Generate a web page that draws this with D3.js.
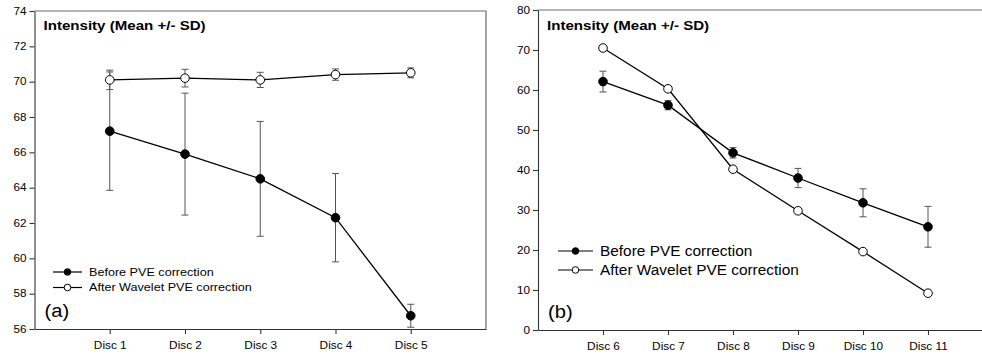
<!DOCTYPE html>
<html>
<head>
<meta charset="utf-8">
<script src="https://cdn.jsdelivr.net/npm/d3@7"></script>
<style>
  body { margin: 0; background: #fff; }
  text { font-family: 'Liberation Sans', Arial, sans-serif; fill: #000; }
</style>
</head>
<body>
<script>
// panel (a) - discs 1-5
var discsA = ['Disc 1', 'Disc 2', 'Disc 3', 'Disc 4', 'Disc 5'];
var beforeA = [67.2, 65.9, 64.5, 62.3, 56.75];
var beforeSdA = [3.35, 3.45, 3.25, 2.5, 0.65];
var afterA = [70.1, 70.2, 70.1, 70.4, 70.5];
var afterSdA = [0.55, 0.5, 0.43, 0.32, 0.28];
var ticksA = [56, 58, 60, 62, 64, 66, 68, 70, 72, 74];

// panel (b) - discs 6-11
var discsB = ['Disc 6', 'Disc 7', 'Disc 8', 'Disc 9', 'Disc 10', 'Disc 11'];
var beforeB = [62.1, 56.2, 44.3, 38.0, 31.8, 25.8];
var beforeSdB = [2.6, 1.15, 1.3, 2.4, 3.5, 5.1];
var afterB = [70.5, 60.3, 40.2, 29.8, 19.6, 9.2];
var afterSdB = [0.4, 0.4, 0.4, 0.4, 0.4, 0.4];
var ticksB = [0, 10, 20, 30, 40, 50, 60, 70, 80];

var legendNames = ['Before PVE correction', 'After Wavelet PVE correction'];
var titleText = 'Intensity (Mean +/- SD)';

var svg = d3.select('body').append('svg')
    .attr('width', 982)
    .attr('height', 358);

// the picture's text is wider than plain Arial, so stretch it a bit
function stretch(sel, k) {
  sel.each(function () {
    var w = this.getComputedTextLength();
    d3.select(this)
      .attr('textLength', w * k)
      .attr('lengthAdjust', 'spacingAndGlyphs');
  });
}

function drawPanel(p) {
  var g = svg.append('g');

  var x = d3.scaleLinear().domain(p.xDomain).range([p.left, p.right]);
  var y = d3.scaleLinear().domain(p.yDomain).range([p.bottom, p.top]);
  var first = p.xDomain[0] + 1;
  var idx = p.discs.map(function (d, i) { return first + i; });

  // frame top/right
  g.append('path')
    .attr('d', 'M' + p.left + ',' + p.top + 'H' + p.right + 'V' + p.bottom)
    .attr('fill', 'none')
    .attr('stroke', '#6a6a6a')
    .attr('stroke-width', 1.2);

  var yAxis = d3.axisLeft(y)
    .tickValues(p.yTicks)
    .tickSize(5)
    .tickPadding(3)
    .tickSizeOuter(0);
  var ya = g.append('g')
    .attr('transform', 'translate(' + p.left + ',0)')
    .call(yAxis);
  ya.selectAll('path, line').attr('stroke', '#333').attr('stroke-width', 1.1);
  ya.selectAll('text').attr('font-size', '10px').attr('fill', '#000');
  stretch(ya.selectAll('text'), 1.17);

  var xAxis = d3.axisBottom(x)
    .tickValues(idx)
    .tickFormat(function (d) { return p.discs[d - first]; })
    .tickSize(5)
    .tickPadding(8)
    .tickSizeOuter(0);
  var xa = g.append('g')
    .attr('transform', 'translate(0,' + p.bottom + ')')
    .call(xAxis);
  xa.selectAll('path, line').attr('stroke', '#333').attr('stroke-width', 1.1);
  xa.selectAll('text').attr('font-size', '10px').attr('fill', '#000');
  stretch(xa.selectAll('text'), 1.18);

  var series = [
    {vals: p.before, sd: p.beforeSd, fill: '#000'},
    {vals: p.after, sd: p.afterSd, fill: '#fff'}
  ];

  // error bars
  series.forEach(function (s) {
    var eb = g.append('g').attr('stroke', '#555').attr('stroke-width', 1);
    s.vals.forEach(function (v, i) {
      var cx = x(idx[i]), lo = y(v - s.sd[i]), hi = y(v + s.sd[i]);
      eb.append('line').attr('x1', cx).attr('x2', cx).attr('y1', lo).attr('y2', hi);
      eb.append('line').attr('x1', cx - 3.5).attr('x2', cx + 3.5).attr('y1', lo).attr('y2', lo);
      eb.append('line').attr('x1', cx - 3.5).attr('x2', cx + 3.5).attr('y1', hi).attr('y2', hi);
    });
  });

  var line = d3.line()
    .x(function (d, i) { return x(idx[i]); })
    .y(function (d) { return y(d); });

  series.forEach(function (s) {
    g.append('path')
      .datum(s.vals)
      .attr('d', line)
      .attr('fill', 'none')
      .attr('stroke', '#000')
      .attr('stroke-width', 1.3);
  });

  series.forEach(function (s) {
    g.selectAll(null)
      .data(s.vals)
      .enter()
      .append('circle')
      .attr('cx', function (d, i) { return x(idx[i]); })
      .attr('cy', function (d) { return y(d); })
      .attr('r', 4.3)
      .attr('fill', s.fill)
      .attr('stroke', '#000')
      .attr('stroke-width', 1);
  });

  // title
  var t = g.append('text')
    .attr('x', p.left + 9)
    .attr('y', 30)
    .attr('font-size', '13px')
    .attr('font-weight', 'bold')
    .text(titleText);
  stretch(t, 1.16);

  // legend
  var lg = g.append('g');
  series.forEach(function (s, i) {
    var ly = p.legY + i * p.legGap;
    lg.append('line')
      .attr('x1', p.legX).attr('x2', p.legX + p.legLen)
      .attr('y1', ly).attr('y2', ly)
      .attr('stroke', '#000').attr('stroke-width', 1.2);
    lg.append('circle')
      .attr('cx', p.legX + p.legLen / 2).attr('cy', ly)
      .attr('r', 3.3)
      .attr('fill', s.fill).attr('stroke', '#000');
    var lt = lg.append('text')
      .attr('x', p.legX + p.legLen + 7)
      .attr('y', ly)
      .attr('dy', '0.36em')
      .attr('font-size', p.legFont + 'px')
      .text(legendNames[i]);
    stretch(lt, p.legStretch);
  });

  var pl = g.append('text')
    .attr('x', p.left + 10)
    .attr('y', p.bottom - 12)
    .attr('font-size', '18px')
    .text(p.label);
  stretch(pl, 1.12);
}

drawPanel({
  discs: discsA, before: beforeA, beforeSd: beforeSdA, after: afterA, afterSd: afterSdA,
  yTicks: ticksA, yDomain: [56, 74], xDomain: [0, 6],
  left: 34.5, right: 486, top: 11, bottom: 329,
  legX: 53, legY: 272, legGap: 15.5, legLen: 29, legFont: 10.5, legStretch: 1.2,
  label: '(a)'
});

drawPanel({
  discs: discsB, before: beforeB, beforeSd: beforeSdB, after: afterB, afterSd: afterSdB,
  yTicks: ticksB, yDomain: [0, 80], xDomain: [5, 12],
  left: 538, right: 993, top: 10, bottom: 330,
  legX: 558, legY: 251, legGap: 19, legLen: 35, legFont: 14, legStretch: 1.1,
  label: '(b)'
});
</script>
</body>
</html>
